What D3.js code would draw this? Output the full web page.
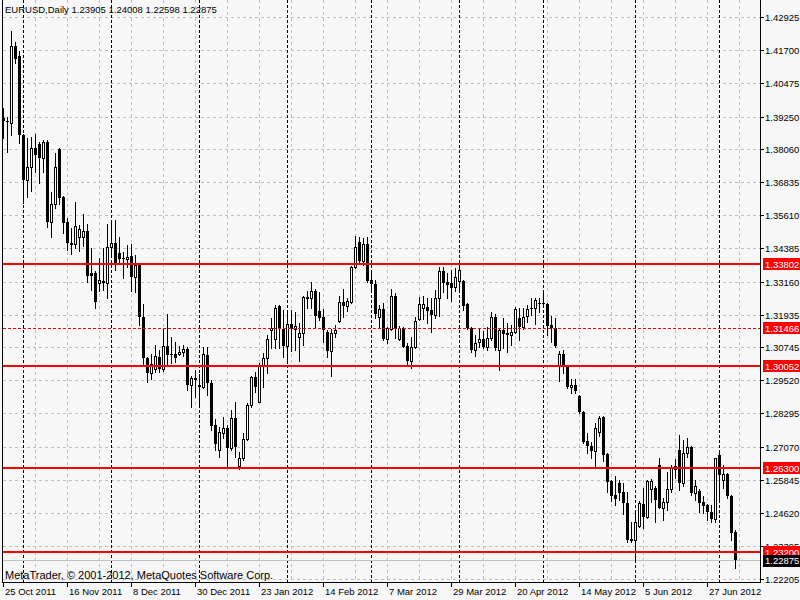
<!DOCTYPE html>
<html><head><meta charset="utf-8">
<script src="https://cdn.jsdelivr.net/npm/d3@7"></script>
<style>
body{margin:0;background:#f7f7f7}
svg{display:block}
text{font-family:"Liberation Sans",Arial,sans-serif;font-size:9.5px;fill:#000}
</style>
</head><body>
<svg id="chart" width="800" height="600"></svg>
<script>
// ---------- data ----------
const symbol = "EURUSD,Daily";
const firstDay = new Date(2011, 9, 25);
const lastDay = new Date(2012, 6, 6);
const open = [1.3920,1.3909,1.3901,1.4186,1.4149,1.3857,1.3691,1.3739,1.3809,1.3824,1.3772,1.3831,1.3536,1.3602,1.3805,1.3628,1.3536,1.3455,1.3455,1.3481,
1.3481,1.3503,1.3348,1.3348,1.3311,1.3315,1.3311,1.3444,1.3459,1.3422,1.3403,1.3400,1.3411,1.3333,1.3377,1.3186,1.3034,1.2979,1.2994,1.3038,
1.2994,1.3079,1.3049,1.3049,1.3049,1.3056,1.3067,1.2935,1.2960,1.2935,1.2927,1.3045,1.2942,1.2787,1.2695,1.2757,1.2776,1.2702,1.2813,1.2636,
1.2665,1.2735,1.2861,1.2964,1.2872,1.3008,1.3034,1.3138,1.3104,1.3227,1.3141,1.3079,1.3160,1.3141,1.3112,1.3126,1.3257,1.3256,1.3281,1.3208,
1.3186,1.3130,1.3060,1.3126,1.3171,1.3241,1.3227,1.3241,1.3370,1.3462,1.3392,1.3455,1.3322,1.3307,1.3186,1.3215,1.3104,1.3141,1.3263,1.3104,
1.3145,1.3079,1.3023,1.3075,1.3178,1.3219,1.3222,1.3211,1.3193,1.3256,1.3355,1.3315,1.3311,1.3296,1.3318,1.3318,1.3233,1.3145,1.3064,1.3093,
1.3104,1.3075,1.3108,1.3186,1.3064,1.3138,1.3126,1.3119,1.3130,1.3182,1.3149,1.3189,1.3219,1.3219,1.3237,1.3237,1.3233,1.3156,1.3145,1.3008,
1.3049,1.3001,1.2927,1.2935,1.2894,1.2835,1.2728,1.2710,1.2691,1.2761,1.2817,1.2680,1.2580,1.2529,1.2573,1.2540,1.2499,1.2366,1.2363,1.2414,
1.2495,1.2448,1.2551,1.2555,1.2639,1.2481,1.2503,1.2551,1.2625,1.2695,1.2573,1.2684,1.2706,1.2536,1.2543,1.2503,1.2492,1.2466,1.2440,1.2676,
1.2584,1.2606,1.2525,1.23905];
const high = [1.3957,1.3924,1.4241,1.4200,1.4167,1.3861,1.3846,1.3850,1.3861,1.3831,1.3839,1.3839,1.3647,1.3791,1.3808,1.3632,1.3551,1.3514,1.3610,1.3525,
1.3566,1.3529,1.3440,1.3355,1.3403,1.3440,1.3529,1.3532,1.3543,1.3481,1.3425,1.3451,1.3455,1.3414,1.3385,1.3233,1.3038,1.3049,1.3082,1.3064,
1.3145,1.3197,1.3112,1.3093,1.3079,1.3082,1.3075,1.2968,1.2990,1.2975,1.3075,1.3075,1.2953,1.2809,1.2780,1.2817,1.2787,1.2842,1.2872,1.2687,
1.2757,1.2868,1.2968,1.2983,1.3016,1.3053,1.3119,1.3182,1.3230,1.3229,1.3211,1.3200,1.3211,1.3204,1.3163,1.3263,1.3281,1.3315,1.3289,1.3278,
1.3215,1.3138,1.3141,1.3156,1.3263,1.3289,1.3256,1.3374,1.3484,1.3481,1.3477,1.3481,1.3359,1.3322,1.3230,1.3237,1.3149,1.3289,1.3274,1.3152,
1.3149,1.3090,1.3112,1.3186,1.3259,1.3263,1.3256,1.3256,1.3285,1.3370,1.3370,1.3348,1.3359,1.3366,1.3370,1.3322,1.3237,1.3147,1.3119,1.3141,
1.3134,1.3149,1.3204,1.3197,1.3140,1.3182,1.3163,1.3156,1.3222,1.3219,1.3219,1.3230,1.3256,1.3256,1.3256,1.3285,1.3237,1.3189,1.3182,1.3060,
1.3064,1.3004,1.2957,1.2957,1.2896,1.2840,1.2757,1.2724,1.2794,1.2820,1.2820,1.2684,1.2584,1.2599,1.2584,1.2573,1.2540,1.2429,1.2466,1.2507,
1.2555,1.2584,1.2588,1.2562,1.2665,1.2518,1.2614,1.2639,1.2662,1.2750,1.2731,1.2739,1.2710,1.2584,1.2551,1.2525,1.2495,1.2492,1.2667,1.2684,
1.2639,1.2610,1.2529,1.24008];
const low = [1.3846,1.3794,1.3857,1.4123,1.3828,1.3606,1.3628,1.3650,1.3721,1.3680,1.3721,1.3518,1.3481,1.3588,1.3602,1.3495,1.3433,1.3418,1.3440,1.3429,
1.3448,1.3315,1.3285,1.3219,1.3281,1.3285,1.3256,1.3407,1.3359,1.3385,1.3329,1.3370,1.3281,1.3278,1.3156,1.3008,1.2946,1.2957,1.2983,1.2983,
1.2986,1.3012,1.3016,1.3019,1.3045,1.3042,1.2916,1.2853,1.2890,1.2861,1.2924,1.2898,1.2769,1.2695,1.2669,1.2739,1.2632,1.2695,1.2669,1.2625,
1.2658,1.2731,1.2853,1.2909,1.2870,1.2927,1.2979,1.3071,1.3071,1.3071,1.3038,1.3016,1.3060,1.3064,1.3023,1.3082,1.3219,1.3219,1.3149,1.3174,
1.3093,1.3038,1.2968,1.3112,1.3167,1.3186,1.3208,1.3237,1.3366,1.3390,1.3377,1.3315,1.3285,1.3182,1.3149,1.3101,1.3090,1.3138,1.3108,1.3101,
1.3073,1.3008,1.2997,1.3071,1.3174,1.3178,1.3163,1.3130,1.3182,1.3189,1.3278,1.3256,1.3245,1.3281,1.3278,1.3211,1.3141,1.3056,1.3042,1.3075,
1.3071,1.3064,1.3101,1.3064,1.2990,1.3071,1.3056,1.3082,1.3128,1.3101,1.3141,1.3167,1.3193,1.3160,1.3204,1.3230,1.3119,1.3093,1.3075,1.2949,
1.2979,1.2924,1.2905,1.2905,1.2830,1.2721,1.2684,1.2665,1.2636,1.2746,1.2654,1.2540,1.2507,1.2492,1.2510,1.2459,1.2355,1.2355,1.2281,1.2410,
1.2407,1.2444,1.2503,1.2429,1.2479,1.2436,1.2473,1.2540,1.2591,1.2547,1.2562,1.2669,1.2529,1.2510,1.2466,1.2462,1.2436,1.2429,1.2429,1.2503,
1.2555,1.2518,1.2363,1.22598];
const close = [1.3909,1.3905,1.4186,1.4138,1.3857,1.3691,1.3739,1.3809,1.3783,1.3772,1.3831,1.3536,1.3602,1.3739,1.3625,1.3532,1.3459,1.3460,1.3521,1.3510,
1.3503,1.3337,1.3337,1.3241,1.3322,1.3318,1.3444,1.3459,1.3385,1.3400,1.3400,1.3407,1.3333,1.3377,1.3186,1.3034,1.2979,1.3012,1.3042,1.2994,
1.3079,1.3045,1.3045,1.3034,1.3056,1.3067,1.2935,1.2960,1.2953,1.2927,1.3049,1.2942,1.2783,1.2717,1.2761,1.2776,1.2702,1.2813,1.2706,1.2665,
1.2735,1.2861,1.2964,1.2927,1.3008,1.3034,1.3104,1.3145,1.3219,1.3141,1.3079,1.3160,1.3141,1.3152,1.3126,1.3259,1.3261,1.3281,1.3189,1.3182,
1.3138,1.3060,1.3126,1.3138,1.3241,1.3227,1.3245,1.3370,1.3444,1.3392,1.3455,1.3318,1.3307,1.3197,1.3215,1.3104,1.3145,1.3263,1.3141,1.3145,
1.3076,1.3023,1.3075,1.3171,1.3233,1.3233,1.3208,1.3193,1.3256,1.3355,1.3311,1.3304,1.3293,1.3333,1.3359,1.3227,1.3145,1.3064,1.3090,1.3104,
1.3075,1.3108,1.3186,1.3071,1.3138,1.3123,1.3119,1.3130,1.3215,1.3149,1.3186,1.3215,1.3215,1.3248,1.3233,1.3233,1.3152,1.3145,1.3079,1.3049,
1.3008,1.2927,1.2935,1.2912,1.2835,1.2724,1.2710,1.2691,1.2776,1.2813,1.2676,1.2577,1.2525,1.2514,1.2536,1.2499,1.2363,1.2359,1.2429,1.2499,
1.2448,1.2580,1.2580,1.2510,1.2481,1.2503,1.2551,1.2632,1.2634,1.2573,1.2684,1.2706,1.2536,1.2562,1.2499,1.2488,1.2466,1.2440,1.2665,1.2603,
1.2606,1.2525,1.2388,1.22875];
const priceTicks = [1.42925,1.41700,1.40475,1.39250,1.38060,1.36835,1.35610,1.34385,1.33160,1.31935,1.30745,1.29520,1.28295,1.27070,1.25845,1.24620,1.23395,1.22205];
const levels = [1.33802,1.31466,1.30052,1.26300,1.23200];
const dashedLevels = [1.31466];
const lastPrice = 1.22875;
const copyright = "MetaTrader, \u00A9 2001-2012, MetaQuotes Software Corp.";
const dateLabelStep = 16;
const gridStep = 8;

// ---------- layout ----------
const W = 800, H = 600, plotRight = 760, plotBottom = 582, plotLeft = 2;
const svg = d3.select("#chart");
const dates = d3.timeDay.range(firstDay, d3.timeDay.offset(lastDay, 1)).filter(d => d.getDay() !== 0 && d.getDay() !== 6);
const n = open.length;
const x = d3.scaleLinear().domain([0, n - 1]).range([3, 3 + 4 * (n - 1)]);
const y = d3.scaleLinear().domain([1.22113, 1.43552]).range([581, 0]);
const fmtDate = d3.timeFormat("%-d %b %Y");
const fmtP = d3.format(".5f");
const Y = v => Math.round(y(v));

svg.append("rect").attr("width", W).attr("height", H).attr("fill", "#f7f7f7");
const g = svg.append("g").attr("shape-rendering", "crispEdges");

// horizontal grid
g.selectAll("line.hg").data(priceTicks).join("line").attr("class", "hg")
  .attr("x1", plotLeft + 1).attr("x2", plotRight)
  .attr("y1", d => Y(d) + 0.5).attr("y2", d => Y(d) + 0.5)
  .attr("stroke", "#c0c0c0").attr("stroke-dasharray", "3,3");

// vertical grid
const gridIdx = d3.range(gridStep, 400, gridStep).filter(i => x(i) < plotRight);
g.selectAll("line.vg").data(gridIdx).join("line").attr("class", "vg")
  .attr("x1", d => x(d) + 0.5).attr("x2", d => x(d) + 0.5)
  .attr("y1", 0).attr("y2", plotBottom)
  .attr("stroke", "#c0c0c0").attr("stroke-dasharray", "3,3");

// month separators
const monthIdx = d3.range(1, n).filter(i => dates[i].getMonth() !== dates[i - 1].getMonth());
g.selectAll("line.ms").data(monthIdx).join("line").attr("class", "ms")
  .attr("x1", d => x(d) + 0.5).attr("x2", d => x(d) + 0.5)
  .attr("y1", 0).attr("y2", plotBottom)
  .attr("stroke", "#000").attr("stroke-dasharray", "3,2");

// last price line
g.append("line").attr("x1", plotLeft + 1).attr("x2", plotRight)
  .attr("y1", Y(lastPrice) + 0.5).attr("y2", Y(lastPrice) + 0.5)
  .attr("stroke", "#c0c0c0");

// candles
const idx = d3.range(n);
const cg = g.append("g");
cg.selectAll("line.wick").data(idx).join("line").attr("class", "wick")
  .attr("x1", i => x(i) + 0.5).attr("x2", i => x(i) + 0.5)
  .attr("y1", i => Y(high[i])).attr("y2", i => Y(low[i]) + 1)
  .attr("stroke", "#000");
cg.selectAll("rect.body").data(idx).join("rect").attr("class", "body")
  .each(function(i) {
    const top = Y(Math.max(open[i], close[i])), bot = Y(Math.min(open[i], close[i]));
    const r = d3.select(this);
    if (close[i] > open[i]) {
      r.attr("x", x(i) - 0.5).attr("y", top + 0.5).attr("width", 2).attr("height", Math.max(bot - top, 1))
       .attr("fill", "#fff").attr("stroke", "#000");
    } else {
      r.attr("x", x(i) - 1).attr("y", top).attr("width", 3).attr("height", Math.max(bot - top, 1))
       .attr("fill", "#000");
    }
  });

// level lines
g.selectAll("line.lv").data(levels).join("line").attr("class", "lv")
  .attr("x1", plotLeft + 1).attr("x2", plotRight)
  .attr("y1", d => dashedLevels.includes(d) ? Y(d) + 0.5 : Y(d))
  .attr("y2", d => dashedLevels.includes(d) ? Y(d) + 0.5 : Y(d))
  .attr("stroke", "#ff0000")
  .attr("stroke-width", d => dashedLevels.includes(d) ? 1 : 2)
  .attr("stroke-dasharray", d => dashedLevels.includes(d) ? "3,2" : null);

// frame
g.append("line").attr("x1", plotLeft + 0.5).attr("x2", plotLeft + 0.5).attr("y1", 0).attr("y2", plotBottom).attr("stroke", "#000");
g.append("line").attr("x1", plotRight + 0.5).attr("x2", plotRight + 0.5).attr("y1", 0).attr("y2", plotBottom + 1).attr("stroke", "#000");
g.append("line").attr("x1", plotLeft).attr("x2", plotRight + 1).attr("y1", plotBottom + 0.5).attr("y2", plotBottom + 0.5).attr("stroke", "#000");

// price axis
g.selectAll("line.pt").data(priceTicks).join("line").attr("class", "pt")
  .attr("x1", plotRight).attr("x2", plotRight + 4)
  .attr("y1", d => Y(d) + 0.5).attr("y2", d => Y(d) + 0.5).attr("stroke", "#000");
svg.selectAll("text.pl").data(priceTicks).join("text").attr("class", "pl")
  .attr("x", 765).attr("y", d => Y(d) + 4).text(d => fmtP(d));

// level labels
const lab = svg.selectAll("g.ll").data(levels).join("g").attr("class", "ll");
lab.append("rect").attr("x", 763).attr("y", d => Y(d) - 6).attr("width", 37).attr("height", 12)
  .attr("fill", "#ff0000").attr("shape-rendering", "crispEdges");
lab.append("text").attr("x", 765).attr("y", d => Y(d) + 4).style("fill", "#fff").text(d => fmtP(d));

// last price label
svg.append("rect").attr("x", 763).attr("y", Y(lastPrice) - 5).attr("width", 37).attr("height", 12)
  .attr("fill", "#000").attr("shape-rendering", "crispEdges");
svg.append("text").attr("x", 765).attr("y", Y(lastPrice) + 4).style("fill", "#fff").text(fmtP(lastPrice));

// date axis
const dateIdx = d3.range(0, n, dateLabelStep);
g.selectAll("line.dt").data(dateIdx).join("line").attr("class", "dt")
  .attr("x1", d => x(d) + 0.5).attr("x2", d => x(d) + 0.5)
  .attr("y1", plotBottom).attr("y2", plotBottom + 5).attr("stroke", "#000");
svg.selectAll("text.dl").data(dateIdx).join("text").attr("class", "dl")
  .attr("x", d => x(d) + 2).attr("y", 595).text(d => fmtDate(dates[d]));

// title & copyright
svg.append("text").attr("x", 5).attr("y", 13)
  .text(`${symbol}  ${fmtP(open[n-1])} ${fmtP(high[n-1])} ${fmtP(low[n-1])} ${fmtP(close[n-1])}`);
svg.append("text").attr("x", 5).attr("y", 579).style("font-size", "11px").text(copyright);
</script>
</body></html>
